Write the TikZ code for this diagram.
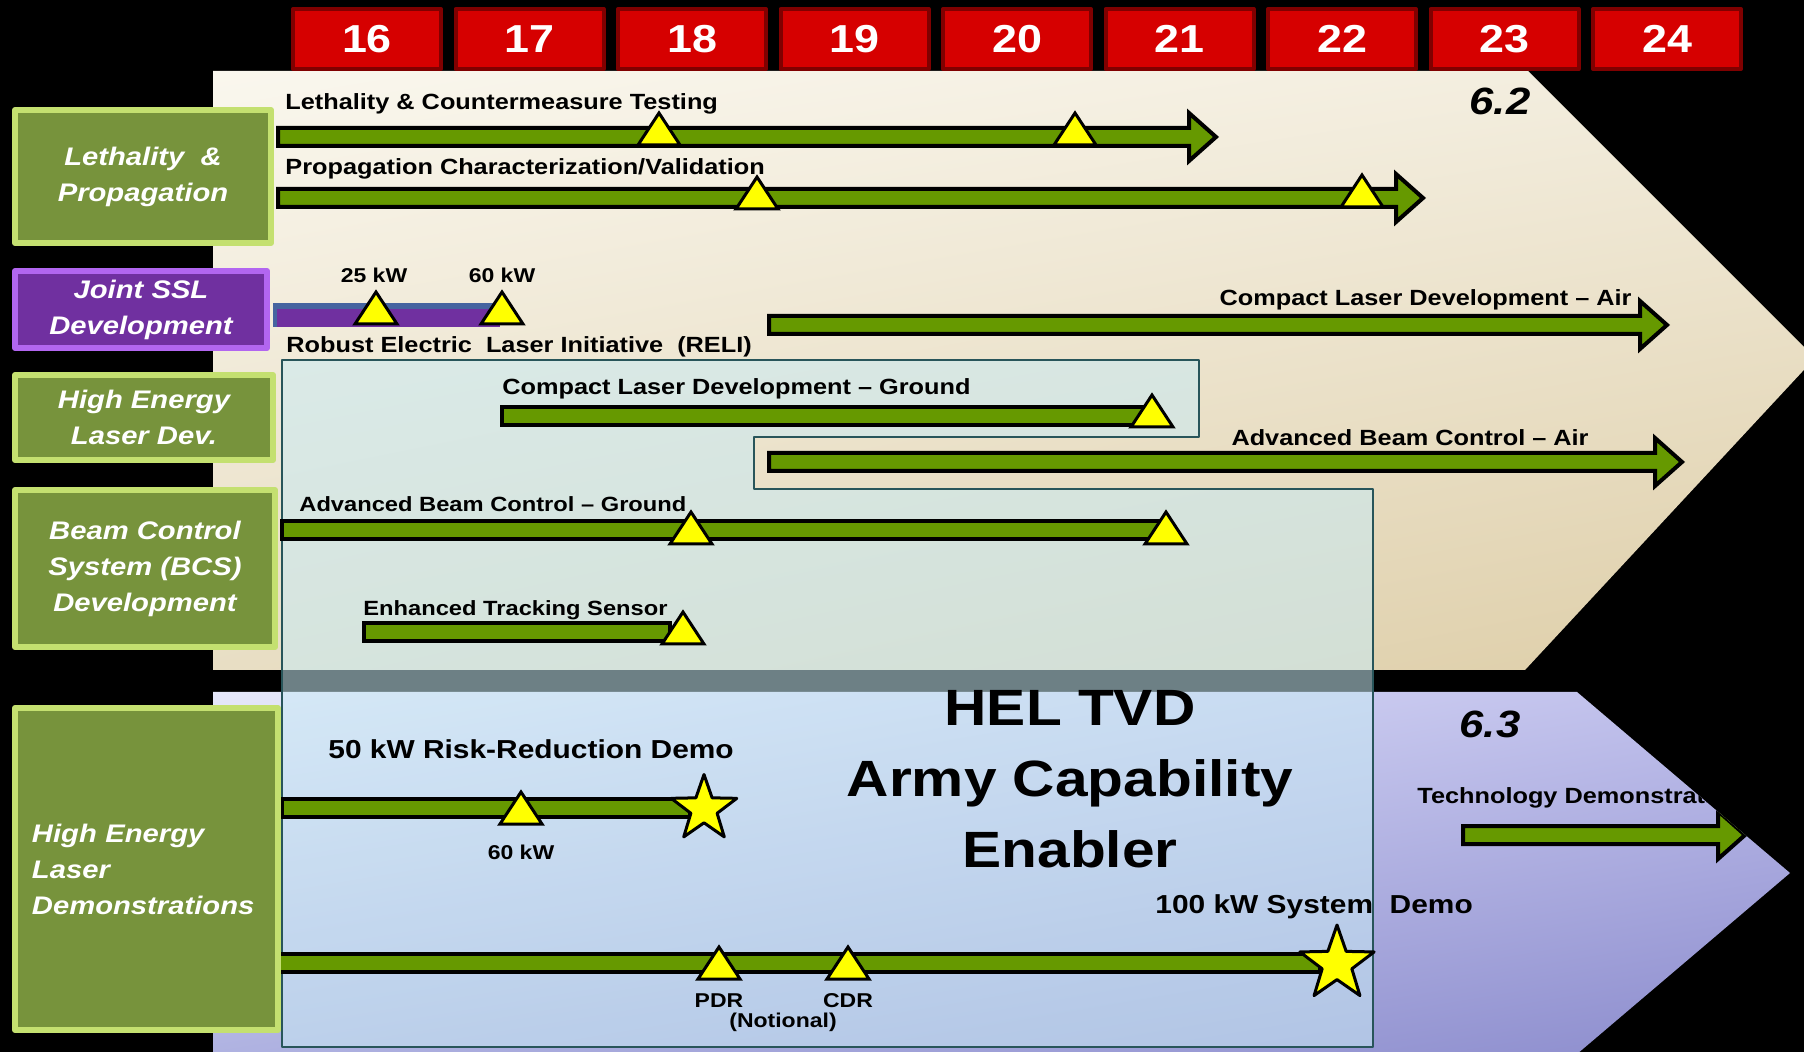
\documentclass[tikz,border=0pt]{standalone}
\usepackage{fontspec}
\setmainfont{Liberation Sans}[FakeStretch=1.15]
\usetikzlibrary{shapes.geometric,shadings}

\definecolor{barGreen}{RGB}{102,153,0}
\definecolor{catGreen}{RGB}{119,147,60}
\definecolor{catEdge}{RGB}{196,224,112}
\definecolor{catPurple}{RGB}{112,48,160}
\definecolor{purpleEdge}{RGB}{178,102,240}
\definecolor{yearRed}{RGB}{214,0,0}
\definecolor{yearEdge}{RGB}{128,0,0}
\definecolor{steelBar}{RGB}{70,100,160}
\definecolor{tvdFill}{RGB}{200,234,244}
\definecolor{tvdEdge}{RGB}{40,85,90}
\definecolor{mileYellow}{RGB}{255,255,0}
\definecolor{creamA}{RGB}{250,247,238}
\definecolor{creamB}{RGB}{242,236,220}
\definecolor{creamC}{RGB}{232,222,196}
\definecolor{creamD}{RGB}{222,206,168}
\definecolor{lavA}{RGB}{230,232,250}
\definecolor{lavB}{RGB}{190,190,235}
\definecolor{lavC}{RGB}{175,178,225}
\definecolor{lavD}{RGB}{140,140,205}

\begin{document}
\begin{tikzpicture}[
  x = 0.5pt,
  y = -0.5pt,
  line join=round,
  bar/.style={fill=barGreen, draw=black, line width=2pt, line join=miter},
  mile/.style={fill=mileYellow, draw=black, line width=1.5pt, line join=miter},
  demostar/.style={star, star points=5, star point ratio=2.5, fill=mileYellow,
    draw=black, line width=1.5pt, inner sep=0pt},
  lbl/.style={font=\fontsize{11}{13}\selectfont\bfseries, inner sep=0pt},
  lbls/.style={font=\fontsize{10.3}{12}\selectfont\bfseries, inner sep=0pt},
  kw/.style={font=\fontsize{10}{12}\selectfont\bfseries, inner sep=0pt},
  demo/.style={font=\fontsize{13}{15}\selectfont\bfseries, inner sep=0pt},
  phase/.style={font=\fontsize{19}{21}\selectfont\bfseries\itshape, inner sep=0pt},
  tvd/.style={font=\fontsize{25.5}{35.5}\selectfont\bfseries, align=center, inner sep=0pt},
  catbox/.style={fill=catGreen, draw=catEdge, line width=3pt, text=white,
    align=center, inner sep=0pt, font=\fontsize{12.7}{18}\selectfont\bfseries\itshape},
  yearbox/.style={fill=yearRed, draw=yearEdge, line width=2pt, text=white,
    minimum width=74pt, minimum height=30pt, inner sep=0pt,
    font=\fontsize{19.5}{20}\selectfont\bfseries}
]
  % 화살표 막대: 시작 x, 끝 x, 중심 y
  \def\arrowbar#1#2#3{%
    \filldraw[bar] (#1,#3-9) -- (#2-27,#3-9) -- (#2-27,#3-24) -- (#2,#3)
      -- (#2-27,#3+24) -- (#2-27,#3+9) -- (#1,#3+9) -- cycle;}

  % 배경
  \fill[black] (0,0) rectangle (1804,1052);
  \useasboundingbox (0,0) rectangle (1804,1052);

  % 6.2 패널
  \shade[upper left=creamA, upper right=creamB, lower left=creamC, lower right=creamD]
    (213,71) -- (1528,71) -- (1815,358) -- (1525,670) -- (213,670) -- cycle;
  % 6.3 패널
  \shade[upper left=lavA, upper right=lavB, lower left=lavC, lower right=lavD]
    (213,692) -- (1577,692) -- (1790,873) -- (1577,1054) -- (213,1054) -- cycle;

  % HEL TVD 영역
  \filldraw[fill=tvdFill, fill opacity=0.55, draw=tvdEdge, line width=1pt]
    (282,360) -- (1199,360) -- (1199,437) -- (754,437) -- (754,489)
    -- (1373,489) -- (1373,1047) -- (282,1047) -- cycle;

  % 막대
  \arrowbar{278}{1216}{137}
  \arrowbar{278}{1423}{198}
  \arrowbar{769}{1667}{325}
  \arrowbar{769}{1682}{462}
  \fill[catPurple] (273,303) rectangle (500,327);
  \fill[steelBar] (273,303) rectangle (500,309);
  \fill[steelBar] (273,303) rectangle (277,327);
  \filldraw[bar] (502,407) rectangle (1145,425);
  \filldraw[bar] (282,521) rectangle (1160,539);
  \filldraw[bar] (364,623) rectangle (670,641);
  \filldraw[bar] (282,799) rectangle (690,817);
  \filldraw[bar] (278,954) rectangle (1320,972);

  \begin{scope}
    \clip (213,692) -- (1577,692) -- (1790,873) -- (1577,1054) -- (213,1054) -- cycle;
    \arrowbar{1463}{1745}{835}
    \node[lbl, anchor=base west] (techdemo) at (1417,803) {Technology Demonstration};
  \end{scope}

  % 마일스톤
  \foreach \mx/\my in {659/147, 1075/147, 757/211, 1362/209, 376/326, 502/326,
      1152/429, 691/546, 1166/546, 683/646, 521/826, 719/981, 848/981}
    \filldraw[mile] (\mx-21,\my-2) -- (\mx,\my-34) -- (\mx+21,\my-2) -- cycle;
  \node[demostar, minimum size=34.5pt] (star50) at (704,809) {};
  \node[demostar, minimum size=39pt] (star100) at (1337,964) {};

  % 막대 이름
  \node[lbl, anchor=base west] (lethlbl) at (285,110) {Lethality \& Countermeasure Testing};
  \node[lbl, anchor=base west] (proplbl) at (285,175) {Propagation Characterization/Validation};
  \node[kw, anchor=base] (kw25) at (374,283) {25 kW};
  \node[kw, anchor=base] (kw60) at (502,283) {60 kW};
  \node[lbl, anchor=base west] (relilbl) at (286,353) {Robust Electric\ \ Laser Initiative\ \ (RELI)};
  \node[lbl, anchor=base east] (cldair) at (1632,306) {Compact Laser Development -- Air};
  \node[lbl, anchor=base west] (cldgnd) at (502,395) {Compact Laser Development -- Ground};
  \node[lbl, anchor=base east] (abcair) at (1589,446) {Advanced Beam Control -- Air};
  \node[lbls, anchor=base west] (abcgnd) at (299,512) {Advanced Beam Control -- Ground};
  \node[lbls, anchor=base west] (etslbl) at (363,616) {Enhanced Tracking Sensor};
  \node[demo, anchor=base west] (rrdemo) at (328,759) {50 kW Risk-Reduction Demo};
  \node[kw, anchor=base] (kw60b) at (521,859) {60 kW};
  \node[demo, anchor=base west] (sysdemo) at (1155,913) {100 kW System\ \ Demo};
  \node[kw, anchor=base] (pdr) at (719,1007) {PDR};
  \node[kw, anchor=base] (cdr) at (848,1007) {CDR};
  \node[kw, anchor=base] (notional) at (783,1027) {(Notional)};

  \node[phase, anchor=base] (p62) at (1500,115) {6.2};
  \node[phase, anchor=base] (p63) at (1490,738) {6.3};
  \node[tvd, anchor=north] (tvd) at (1070,690) {HEL TVD\\Army Capability\\Enabler};

  % 분야 상자
  \node[catbox, minimum width=128pt, minimum height=66.5pt] (lethbox) at (143,176.5)
    {Lethality\ \ \&\\Propagation};
  \node[catbox, fill=catPurple, draw=purpleEdge, minimum width=126pt, minimum height=38.5pt]
    (sslbox) at (141,309.5) {Joint SSL\\Development};
  \node[catbox, minimum width=129pt, minimum height=42.5pt] (heldev) at (144,417.5)
    {High Energy\\Laser Dev.};
  \node[catbox, minimum width=130pt, minimum height=78.5pt] (bcsbox) at (145,568.5)
    {Beam Control\\System (BCS)\\Development};
  \node[catbox, align=left, text width=114.5pt, minimum width=131.5pt, minimum height=161pt]
    (demobox) at (146.5,869) {High Energy\\Laser\\Demonstrations};

  % 연도
  \foreach \i in {0,...,8} {
    \pgfmathtruncatemacro{\yr}{16+\i}
    \node[yearbox] (y\yr) at (367+162.5*\i,39) {\yr};
  }
\end{tikzpicture}
\end{document}
